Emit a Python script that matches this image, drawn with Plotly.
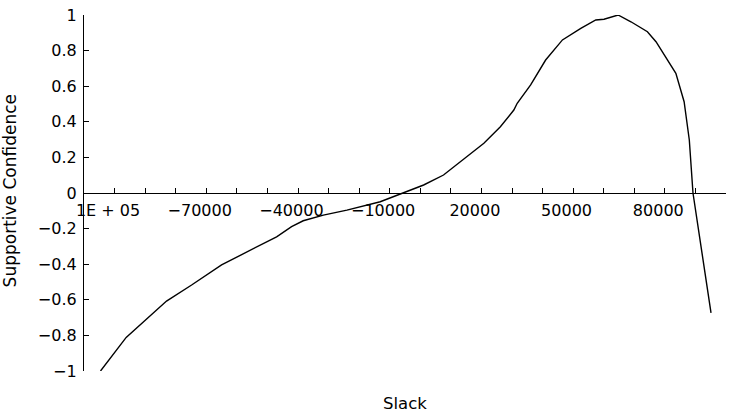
import plotly.graph_objects as go

# Data
slack = [-94600, -86200, -73000, -64800, -55000, -47400, -37000, -32100, -28300,
         -21700, -14000, -3100, 4500, 11100, 17600, 22600, 30800, 36200, 40600,
         41700, 46100, 51000, 56500, 62500, 67400, 70100, 74700, 78900, 84300,
         87100, 93600, 96300, 98000, 99200, 105100]
confidence = [-1.0, -0.811, -0.607, -0.517, -0.404, -0.339, -0.246, -0.189, -0.156,
              -0.124, -0.096, -0.049, 0.0, 0.045, 0.101, 0.167, 0.279, 0.372, 0.466,
              0.504, 0.607, 0.747, 0.860, 0.925, 0.972, 0.976, 1.0, 0.962, 0.906,
              0.850, 0.672, 0.513, 0.298, 0.0, -0.674]

x_tick_vals = list(range(-100000, 110001, 10000))
x_label_map = {-100000: "1E + 05", -70000: "\u221270000", -40000: "\u221240000",
               -10000: "\u221210000", 20000: "20000", 50000: "50000", 80000: "80000"}
x_tick_text = [x_label_map.get(v, "") for v in x_tick_vals]

y_tick_vals = [1, 0.8, 0.6, 0.4, 0.2, 0, -0.2, -0.4, -0.6, -0.8, -1]
y_tick_text = ["1", "0.8", "0.6", "0.4", "0.2", "0", "\u22120.2", "\u22120.4",
               "\u22120.6", "\u22120.8", "\u22121"]

font_family = "DejaVu Sans, Liberation Sans, Arial, sans-serif"

fig = go.Figure()
fig.add_trace(go.Scatter(x=slack, y=confidence, mode="lines",
                         line=dict(color="black", width=1.4),
                         showlegend=False, hoverinfo="skip"))

fig.update_layout(
    width=729, height=412,
    margin=dict(l=84, r=3, t=15, b=41),
    paper_bgcolor="white", plot_bgcolor="white",
    font=dict(family=font_family, size=16, color="black"),
    xaxis=dict(
        range=[-100000, 110000],
        anchor="free", position=0.5,
        showline=True, linecolor="black", linewidth=1.2,
        showgrid=False, zeroline=False,
        ticks="inside", ticklen=5, tickwidth=1, tickcolor="black",
        tickvals=x_tick_vals, ticktext=x_tick_text,
        ticklabelshift=24, ticklabelstandoff=3,
        tickfont=dict(size=16),
    ),
    yaxis=dict(
        range=[-1, 1],
        showline=True, linecolor="black", linewidth=1.2,
        showgrid=False, zeroline=False,
        ticks="inside", ticklen=5, tickwidth=1, tickcolor="black",
        tickvals=y_tick_vals, ticktext=y_tick_text,
        ticklabelstandoff=3,
        tickfont=dict(size=16),
    ),
)

fig.add_annotation(text="Slack", xref="paper", yref="paper", x=0.5, y=-0.09,
                   xanchor="center", yanchor="middle", showarrow=False,
                   font=dict(size=16.5))
fig.add_annotation(text="Supportive Confidence", xref="paper", yref="paper",
                   x=-0.115, y=0.505, xanchor="center", yanchor="middle",
                   textangle=-90, showarrow=False, font=dict(size=17))

fig.write_html("out.html")
